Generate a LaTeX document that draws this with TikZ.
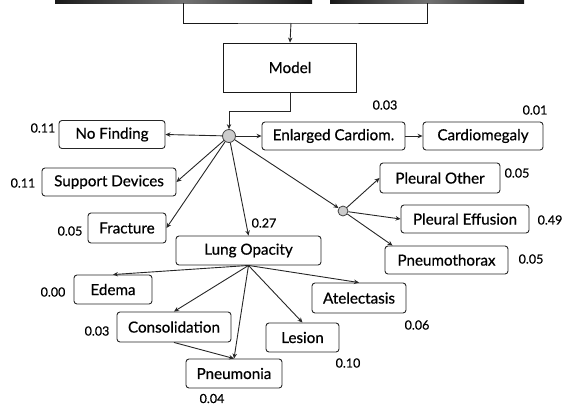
\documentclass[tikz,border=0pt]{standalone}
\usepackage{fontspec}
\setmainfont{Lato}[BoldFont=Lato, BoldFeatures={FakeBold=0.6}]
\usetikzlibrary{arrows.meta,calc}
\begin{document}
\begin{tikzpicture}[x=1pt,y=-1pt,
  box/.style={draw=black!85, rounded corners=3pt, line width=0.9pt, inner sep=0pt,
    font=\fontsize{15.2}{15}\selectfont\bfseries, minimum height=28pt},
  val/.style={font=\fontsize{12.5}{12}\selectfont\bfseries, inner sep=0pt},
  arr/.style={-{Stealth[length=5pt,width=4.5pt]}, line width=0.9pt, draw=black!85},
  link/.style={line width=1pt, draw=black!90},
  hub/.style={circle, draw=black!75, fill=black!20, line width=0.8pt, inner sep=0pt},
  scan/.style={left color=black!90, right color=black!90, middle color=black!55},
]
\useasboundingbox (0,0) rectangle (569,405);

% lower edges of the two input radiographs
\shade[scan] (55,-4) rectangle (312,3);
\shade[scan] (330,-4) rectangle (524,3);
\coordinate (imgL) at (183,3);
\coordinate (imgR) at (427,3);
\coordinate (join) at (291,23);

% model
\node[draw=black!90, line width=0.9pt, minimum width=133pt, minimum height=49pt,
  inner sep=0pt, font=\fontsize{15.2}{15}\selectfont\bfseries] (model) at (290,67.5) {Model};

\draw[link] (imgL) |- (join) -| (imgR);
\draw[arr] (join) -- (model.north);

% first-level split
\node[hub, minimum size=13pt] (hubA) at (229,136) {};
\coordinate (bend) at (290,111);
\draw[arr] (model.south) -- (bend) -| (hubA.north);

\node[box, minimum width=106pt] (nof) at (112,134.5) {No Finding};
\node[box, minimum width=143pt] (enl) at (333.5,136) {Enlarged Cardiom.};
\node[box, minimum width=120pt] (card) at (483,136) {Cardiomegaly};
\node[box, minimum width=134pt] (sup) at (109,182) {Support Devices};
\node[box, minimum width=78pt, minimum height=30pt] (fra) at (127,228) {Fracture};
\node[box, minimum width=145pt, minimum height=29pt] (lung) at (248.5,250.5) {Lung Opacity};

\node[hub, minimum size=10pt] (hubB) at (343,211) {};
\node[box, minimum width=120pt, minimum height=30pt] (po) at (440,178) {Pleural Other};
\node[box, minimum width=128pt] (pe) at (465,219) {Pleural Effusion};
\node[box, minimum width=123pt] (pnx) at (446.5,260) {Pneumothorax};

\node[box, minimum width=78pt, minimum height=29pt] (ede) at (113,289.5) {Edema};
\node[box, minimum width=114pt, minimum height=30pt] (con) at (174,327) {Consolidation};
\node[box, minimum width=96pt, minimum height=29pt] (pna) at (234,373.5) {Pneumonia};
\node[box, minimum width=73pt, minimum height=29pt] (les) at (302.5,337.5) {Lesion};
\node[box, minimum width=94pt, minimum height=30pt] (ate) at (359,298) {Atelectasis};

% connectors
\draw[arr] (hubA) -- (nof.east);
\draw[arr] (hubA) -- (enl.west);
\draw[arr] (hubA) -- (sup.east);
\draw[arr] (hubA) -- (fra.east);
\draw[arr] (hubA) -- (lung.north);
\draw[arr] (hubA) -- (hubB);
\draw[arr] (enl.east) -- (card.west);

\draw[arr] (hubB) -- (po.west);
\draw[arr] (hubB) -- (pe.west);
\draw[arr] (hubB) -- (pnx.165);

\draw[arr] (lung.south) -- (ede.north);
\draw[arr] (lung.south) -- (con.north);
\draw[arr] (lung.south) -- (pna.north);
\draw[arr] (lung.south) -- (les.north);
\draw[arr] (lung.south) -- (ate.north);
\draw[arr] (con.south) -- (pna.north);

% probabilities
\node[val] (vnof) at (43,128) {0.11};
\node[val] (venl) at (385,105) {0.03};
\node[val] (vcard) at (535,110) {0.01};
\node[val] (vsup) at (23,183) {0.11};
\node[val] (vfra) at (70,231) {0.05};
\node[val] (vlung) at (264,223) {0.27};
\node[val] (vpo) at (517,173) {0.05};
\node[val] (vpe) at (550,220) {0.49};
\node[val] (vpnx) at (531,259) {0.05};
\node[val] (vede) at (53,292) {0.00};
\node[val] (vcon) at (97,331) {0.03};
\node[val] (vpna) at (212,398.5) {0.04};
\node[val] (vles) at (348,363) {0.10};
\node[val] (vate) at (417,325) {0.06};
\end{tikzpicture}
\end{document}
